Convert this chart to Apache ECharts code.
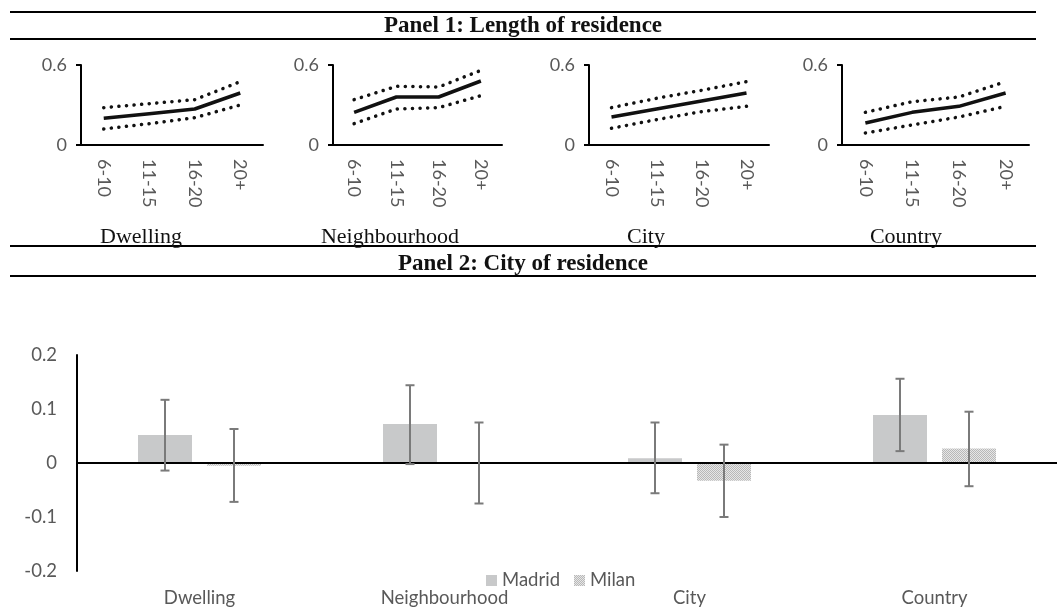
<!DOCTYPE html>
<html>
<head>
<meta charset="utf-8">
<style>
  html, body { margin: 0; padding: 0; background: #fff; }
  #main { width: 1057px; height: 608px; }
</style>
<script src="https://cdn.jsdelivr.net/npm/echarts@6/dist/echarts.min.js"></script>
</head>
<body>
<div id="main"></div>
<script>
// ---- Panel 1 data: length of residence ----
var yearCats = ['6-10', '11-15', '16-20', '20+'];
var panelNames = ['Dwelling', 'Neighbourhood', 'City', 'Country'];
var dwellingMean = [0.20, 0.235, 0.27, 0.39];
var dwellingHi = [0.28, 0.31, 0.34, 0.475];
var dwellingLo = [0.12, 0.16, 0.205, 0.30];
var neighMean = [0.245, 0.36, 0.36, 0.48];
var neighHi = [0.34, 0.44, 0.435, 0.56];
var neighLo = [0.16, 0.27, 0.28, 0.37];
var cityMean = [0.21, 0.27, 0.33, 0.39];
var cityHi = [0.28, 0.35, 0.41, 0.475];
var cityLo = [0.125, 0.19, 0.25, 0.29];
var countryMean = [0.165, 0.245, 0.29, 0.39];
var countryHi = [0.245, 0.325, 0.36, 0.475];
var countryLo = [0.09, 0.15, 0.21, 0.29];
var smallTicks = [0, 0.6];

// ---- Panel 2 data: city of residence ----
var scopeCats = ['Dwelling', 'Neighbourhood', 'City', 'Country'];
var madrid = [0.052, 0.072, 0.009, 0.089];
var madridLow = [-0.014, -0.002, -0.056, 0.022];
var madridHigh = [0.117, 0.144, 0.075, 0.156];
var milan = [-0.005, 0.001, -0.033, 0.027];
var milanLow = [-0.072, -0.075, -0.100, -0.043];
var milanHigh = [0.063, 0.075, 0.034, 0.095];
var bigTicks = [-0.2, -0.1, 0, 0.1, 0.2];

(function(){
  var myChart = echarts.init(document.getElementById('main'));

  var labelFont = 'Lato, "Open Sans", sans-serif';
  var serif = '"Liberation Serif", "DejaVu Serif", serif';
  var grayText = '#595959';

  // checkered pattern for Milan
  var pat = document.createElement('canvas');
  pat.width = 2; pat.height = 2;
  var pctx = pat.getContext('2d');
  pctx.fillStyle = '#e6e6e6'; pctx.fillRect(0, 0, 2, 2);
  pctx.fillStyle = '#b8b8b8'; pctx.fillRect(0, 0, 1, 1); pctx.fillRect(1, 1, 1, 1);
  var milanFill = { image: pat, repeat: 'repeat' };

  // small grids (the four mini charts)
  var smallGrids = [
    { left: 81, top: 65, width: 182, height: 80 },
    { left: 333, top: 65, width: 169, height: 80 },
    { left: 589, top: 65, width: 180, height: 80 },
    { left: 842, top: 65, width: 187, height: 80 }
  ];
  var smallData = [
    [dwellingHi, dwellingMean, dwellingLo],
    [neighHi, neighMean, neighLo],
    [cityHi, cityMean, cityLo],
    [countryHi, countryMean, countryLo]
  ];

  var grid = [], xAxis = [], yAxis = [], series = [];
  smallGrids.forEach(function(g, i) {
    grid.push(g);
    xAxis.push({
      type: 'category', gridIndex: i, data: yearCats, boundaryGap: true,
      axisLine: { lineStyle: { color: '#000', width: 2 } },
      axisTick: { show: false },
      axisLabel: { rotate: -90, color: grayText, fontSize: 18, fontFamily: labelFont, margin: 14 }
    });
    yAxis.push({
      type: 'value', gridIndex: i, min: smallTicks[0], max: smallTicks[1], interval: 0.6,
      axisLine: { show: true, lineStyle: { color: '#000', width: 2 } },
      axisTick: { show: true, length: 5, lineStyle: { color: '#000', width: 2 } },
      splitLine: { show: false },
      axisLabel: { color: grayText, fontSize: 18, fontFamily: labelFont, margin: 14 }
    });
    smallData[i].forEach(function(arr, k) {
      series.push({
        type: 'line', xAxisIndex: i, yAxisIndex: i, data: arr,
        symbol: 'none', silent: true,
        lineStyle: k === 1
          ? { color: '#111', width: 3.5 }
          : { color: '#111', width: 3.5, type: [0.1, 7.5], cap: 'round' }
      });
    });
  });

  // big grid
  var bi = smallGrids.length;
  grid.push({ left: 77, top: 355, width: 983, height: 216 });
  xAxis.push({
    type: 'category', gridIndex: bi, data: scopeCats,
    axisLine: { show: false, onZero: false },
    axisTick: { show: false },
    axisLabel: { color: grayText, fontSize: 18.5, fontFamily: labelFont, margin: 18 }
  });
  yAxis.push({
    type: 'value', gridIndex: bi, min: -0.2, max: 0.2, interval: 0.1,
    axisLine: { show: true, lineStyle: { color: '#000', width: 2 } },
    axisTick: { show: false },
    splitLine: { show: false },
    axisLabel: { color: grayText, fontSize: 18.5, fontFamily: labelFont, margin: 20,
      formatter: function(v) { var r = Math.round(v * 10) / 10; return bigTicks.indexOf(r) >= 0 ? String(r) : ''; } }
  });

  var barW = 54, barGapPx = 15;
  series.push({
    name: 'Madrid', type: 'bar', xAxisIndex: bi, yAxisIndex: bi, data: madrid,
    barWidth: barW, barGap: (barGapPx / barW * 100) + '%',
    itemStyle: { color: '#c8c9ca' },
    markLine: {
      silent: true, symbol: 'none', label: { show: false },
      lineStyle: { color: '#000', width: 2, type: 'solid' },
      data: [{ yAxis: 0 }]
    }
  });
  series.push({
    name: 'Milan', type: 'bar', xAxisIndex: bi, yAxisIndex: bi, data: milan,
    barWidth: barW, barGap: (barGapPx / barW * 100) + '%',
    itemStyle: { color: milanFill }
  });

  // error bars
  var errData = [];
  scopeCats.forEach(function(c, i) {
    errData.push([i, madridLow[i], madridHigh[i], -1]);
    errData.push([i, milanLow[i], milanHigh[i], 1]);
  });
  series.push({
    type: 'custom', xAxisIndex: bi, yAxisIndex: bi, data: errData, silent: true, z: 5,
    renderItem: function(params, api) {
      var off = api.value(3) * (barW + barGapPx) / 2;
      var lo = api.coord([api.value(0), api.value(1)]);
      var hi = api.coord([api.value(0), api.value(2)]);
      var x = lo[0] + off, cap = 4.5;
      var st = { stroke: '#7a7a7a', lineWidth: 2 };
      return {
        type: 'group',
        children: [
          { type: 'line', shape: { x1: x, y1: hi[1], x2: x, y2: lo[1] }, style: st },
          { type: 'line', shape: { x1: x - cap, y1: hi[1], x2: x + cap, y2: hi[1] }, style: st },
          { type: 'line', shape: { x1: x - cap, y1: lo[1], x2: x + cap, y2: lo[1] }, style: st }
        ]
      };
    }
  });

  // rules and headings
  var rule = function(y) {
    return { type: 'line', shape: { x1: 10, y1: y, x2: 1036, y2: y }, style: { stroke: '#000', lineWidth: 2 } };
  };
  var graphic = [rule(12), rule(39), rule(246), rule(276)];
  graphic.push({ type: 'text', x: 523, y: 15,
    style: { text: 'Panel 1: Length of residence', font: 'bold 23px ' + serif, fill: '#111', textAlign: 'center' } });
  graphic.push({ type: 'text', x: 523, y: 253,
    style: { text: 'Panel 2: City of residence', font: 'bold 23px ' + serif, fill: '#111', textAlign: 'center' } });
  var subCenters = [141, 390, 646, 906];
  panelNames.forEach(function(n, i) {
    graphic.push({ type: 'text', x: subCenters[i], y: 226,
      style: { text: n, font: '22px ' + serif, fill: '#111', textAlign: 'center' } });
  });

  var option = {
    animation: false,
    backgroundColor: '#fff',
    grid: grid,
    xAxis: xAxis,
    yAxis: yAxis,
    legend: {
      data: ['Madrid', 'Milan'],
      left: 481, top: 566,
      icon: 'rect', itemWidth: 11, itemHeight: 11, itemGap: 14,
      textStyle: { color: grayText, fontSize: 18.5, fontFamily: labelFont }
    },
    graphic: graphic,
    series: series
  };

  myChart.setOption(option);

  window.addEventListener('resize', function() {
    myChart.resize();
  });
})();
</script>
</body>
</html>
